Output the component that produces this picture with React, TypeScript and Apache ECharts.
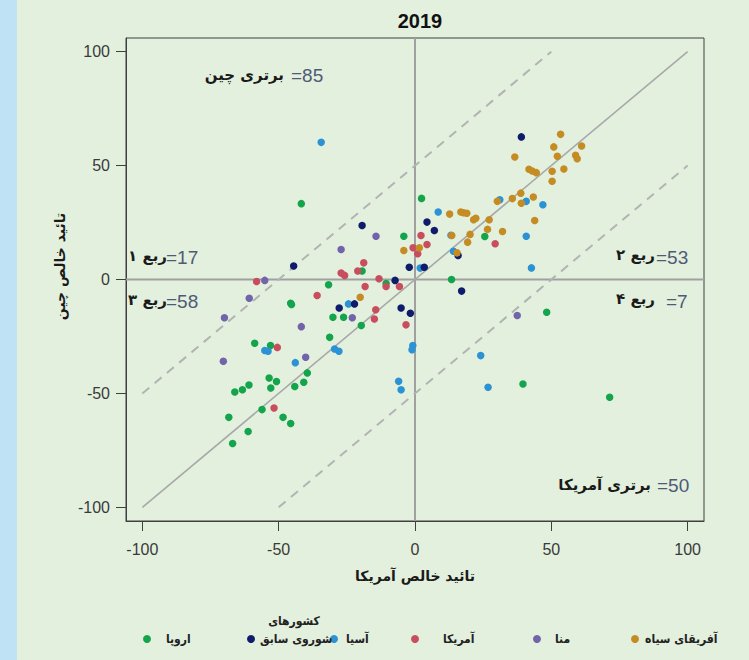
import React, { useEffect, useRef } from "react";
import * as echarts from "echarts";

// ---- data (x = US net approval, y = China net approval) ----
const africa: number[][] = [
  [53.4, 63.7], [50.9, 58.2], [61.1, 58.6], [36.6, 53.8], [52.2, 54.1], [58.9, 54.5], [59.5, 53.0],
  [41.8, 48.4], [43.0, 47.6], [44.5, 46.9], [50.3, 47.5], [54.6, 48.5], [50.3, 43.1], [38.8, 37.9],
  [35.7, 35.5], [30.2, 34.3], [39.0, 33.5], [43.4, 36.2], [43.9, 25.9], [12.7, 28.7], [16.8, 29.6],
  [17.8, 29.3], [19.0, 29.1], [21.5, 26.2], [22.3, 26.9], [27.2, 26.2], [26.6, 22.0], [32.1, 21.1],
  [13.5, 19.3], [20.2, 19.8], [19.3, 16.4], [1.6, 13.9], [-4.1, 12.7], [15.4, 11.7], [-20.1, -7.8],
];
const mena: number[][] = [
  [-14.3, 19.0], [-27.1, 13.2], [-55.1, -0.4], [-60.8, -8.2], [-23.0, -16.8], [-69.9, -16.8],
  [-41.7, -20.7], [-70.3, -35.9], [-40.1, -34.1], [37.5, -15.8],
];
const americas: number[][] = [
  [2.2, 19.3], [-0.7, 13.9], [1.0, 11.3], [4.4, 15.4], [-5.7, -3.1], [-18.8, 7.3], [-21.0, 3.7],
  [-27.1, 2.8], [-25.8, 1.8], [-58.1, -0.9], [-13.2, 0.3], [-10.6, -3.1], [-18.3, -3.1], [-35.9, -7.0],
  [-14.4, -13.3], [-14.9, -17.3], [-3.3, -19.9], [-50.5, -29.8], [-51.7, -56.4], [29.4, 15.7],
];
const asia: number[][] = [
  [31.1, 35.0], [40.8, 34.3], [46.9, 32.8], [40.8, 19.0], [42.7, 5.1], [8.5, 29.6], [13.2, 19.4],
  [14.1, 12.4], [1.9, 5.0], [-24.4, -10.7], [-55.1, -31.2], [-53.9, -31.5], [-29.5, -30.5],
  [-27.9, -31.5], [-0.8, -29.0], [-1.1, -30.8], [-43.9, -36.5], [-6.0, -44.7], [-5.1, -48.4],
  [24.1, -33.4], [26.8, -47.3], [-34.4, 60.2],
];
const soviet: number[][] = [
  [39.0, 62.6], [4.4, 25.2], [7.1, 21.5], [15.8, 10.5], [-2.1, 5.4], [3.4, 5.4], [17.1, -5.1],
  [-7.3, -0.4], [-19.4, 23.7], [-44.5, 5.9], [-27.8, -12.5], [-22.2, -10.7], [-5.1, -12.5], [-1.7, -14.8],
];
const europe: number[][] = [
  [2.4, 35.6], [-4.1, 19.0], [25.6, 18.9], [13.4, 0.0], [-41.7, 33.3], [-19.4, 3.7], [-31.7, -2.3],
  [-10.6, -1.8], [-45.6, -10.4], [-45.3, -11.0], [-30.1, -16.6], [-26.2, -16.6], [-19.7, -20.2],
  [-31.3, -25.4], [-58.8, -28.0], [-53.0, -29.0], [-39.5, -41.0], [-40.8, -45.1], [-44.1, -47.0],
  [-53.5, -43.2], [-50.8, -44.8], [-52.9, -47.6], [-60.9, -46.3], [-63.3, -48.4], [-66.1, -49.4],
  [-56.1, -57.1], [-48.4, -60.5], [-45.6, -63.2], [-68.3, -60.5], [-61.2, -66.7], [-66.9, -72.0],
  [48.3, -14.4], [39.6, -45.9], [71.4, -51.7],
];

const seriesNames = ["آفریقای سیاه", "منا", "آمریکا", "آسیا", "کشورهای شوروی سابق", "اروپا"];
const seriesData = [africa, mena, americas, asia, soviet, europe];
const legendLabels = ["آفریقای سیاه", "منا", "آمریکا", "آسیا", "شوروی سابق", "اروپا"];

const tickValues = [-100, -50, 0, 50, 100];
const axisRange = [-106, 106];

const diagLine = [[-100, -100], [100, 100]];
const upperDash = [[-100, -50], [50, 100]];
const lowerDash = [[-50, -100], [100, 50]];
const zeroH = [[-106, 0], [106, 0]];
const zeroV = [[0, -106], [0, 106]];

const quadrantNames = ["ربع ۱", "ربع ۲", "ربع ۳", "ربع ۴"];
const quadrantCounts = [17, 53, 58, 7];
const advantageNames = ["برتری چین", "برتری آمریکا"];
const advantageCounts = [85, 50];

const titleText = "2019";
const xName = "تائید خالص آمریکا";
const yName = "تائید خالص چین";
const sovietTopLine = "کشورهای";

// ---- styles / layout ----
const colors = ["#c48c22", "#7264aa", "#c84e5e", "#2b92d4", "#0f1c6c", "#14a54c"];
const drawOrder = [5, 3, 4, 2, 1, 0];
const legendDotX = [635, 537, 415, 334, 251, 147];
const legendTextX = [645, 555, 443, 346, 260, 166];
const BG = "#e3f0de";
const faFont = "DejaVu Sans";
const legendFont = "'DejaVu Sans Condensed', 'DejaVu Sans'";
const numFont = "Liberation Sans";

export default function App() {
  const ref = useRef<HTMLDivElement>(null);
  useEffect(() => {
    document.body.style.margin = "0";
    if (!ref.current) return;
    const chart = echarts.init(ref.current, undefined, { renderer: "svg" });

    const lineSeries = [
      { data: zeroH, color: "#a0a0a0", width: 2, type: "solid" },
      { data: zeroV, color: "#a0a0a0", width: 2, type: "solid" },
      { data: diagLine, color: "#a8a8a8", width: 1.6, type: "solid" },
      { data: upperDash, color: "#b3b3b3", width: 2, type: [9, 7] },
      { data: lowerDash, color: "#b3b3b3", width: 2, type: [9, 7] },
    ].map((l) => ({
      type: "line",
      data: l.data,
      symbol: "none",
      silent: true,
      z: 1,
      lineStyle: { color: l.color, width: l.width, type: l.type },
    }));

    const scatterSeries = drawOrder.map((i) => ({
      name: seriesNames[i],
      type: "scatter",
      data: seriesData[i],
      symbolSize: 7.5,
      z: 3,
      itemStyle: { color: colors[i], opacity: 1 },
    }));

    const legends = seriesNames.map((n, i) => ({
      data: [n],
      left: legendDotX[i] - 4,
      top: 633,
      icon: "circle",
      itemWidth: 8,
      itemHeight: 8,
      padding: 0,
      selectedMode: false,
      formatter: () => legendLabels[i],
      textStyle: {
        fontSize: 12,
        fontWeight: "bold",
        fontFamily: legendFont,
        color: "#222",
        padding: [0, 0, 0, Math.max(0, legendTextX[i] - legendDotX[i] - 9)],
      },
    }));

    const txt = (text: string, x: number, y: number, align: string, opts: any) => ({
      type: "text",
      x,
      y,
      silent: true,
      style: { text, align, verticalAlign: "middle", ...opts },
    });
    const faStyle = { fontSize: 15, fontWeight: "bold", fontFamily: faFont, fill: "#1a1a1a" };
    const numStyle = { fontSize: 19, fontFamily: numFont, fill: "#4f5a76" };

    const graphic = [
      { type: "rect", shape: { x: 0, y: 0, width: 17, height: 660 }, style: { fill: "#bfe3f4" }, silent: true },
      txt(advantageNames[0], 284, 75, "right", faStyle),
      txt("=" + advantageCounts[0], 291, 75, "left", numStyle),
      txt(advantageNames[1], 651, 485, "right", faStyle),
      txt("=" + advantageCounts[1], 657, 485, "left", numStyle),
      txt(quadrantNames[0], 167, 256, "right", faStyle),
      txt("=" + quadrantCounts[0], 166, 257, "left", numStyle),
      txt(quadrantNames[2], 167, 300, "right", faStyle),
      txt("=" + quadrantCounts[2], 166, 301, "left", numStyle),
      txt(quadrantNames[1], 655, 255, "right", faStyle),
      txt("=" + quadrantCounts[1], 656, 257, "left", numStyle),
      txt(quadrantNames[3], 655, 299, "right", faStyle),
      txt("=" + quadrantCounts[3], 666, 301, "left", numStyle),
      txt(sovietTopLine, 294, 621, "center", { fontSize: 12, fontWeight: "bold", fontFamily: legendFont, fill: "#222" }),
    ];

    const axisCommon = {
      type: "value",
      min: axisRange[0],
      max: axisRange[1],
      splitLine: { show: false },
      axisLine: { show: true, onZero: false, lineStyle: { color: "#3f3f3f", width: 1 } },
      axisTick: { show: true, customValues: tickValues, length: 10, lineStyle: { color: "#3f3f3f" } },
    };

    chart.setOption({
      animation: false,
      backgroundColor: BG,
      title: {
        text: titleText,
        left: 415,
        top: 6,
        textAlign: "center",
        textStyle: { fontSize: 20, fontWeight: "bold", fontFamily: numFont, color: "#111" },
      },
      grid: {
        left: 126,
        right: 45,
        top: 38,
        bottom: 139,
        show: true,
        backgroundColor: "transparent",
        borderColor: "#3f3f3f",
        borderWidth: 1,
      },
      xAxis: {
        ...axisCommon,
        position: "bottom",
        axisLabel: { customValues: tickValues, fontSize: 16, color: "#3a3a3a", fontFamily: numFont, margin: 20 },
        name: xName,
        nameLocation: "middle",
        nameGap: 48,
        nameTextStyle: { fontSize: 14, fontWeight: "bold", fontFamily: faFont, color: "#1a1a1a" },
      },
      yAxis: {
        ...axisCommon,
        position: "left",
        axisLabel: { customValues: tickValues, fontSize: 16, color: "#3a3a3a", fontFamily: numFont, margin: 16 },
        name: yName,
        nameLocation: "middle",
        nameGap: 36,
        nameRotate: 90,
        nameTextStyle: { fontSize: 14, fontWeight: "bold", fontFamily: faFont, color: "#1a1a1a", padding: [0, 0, 0, 26] },
      },
      legend: legends,
      graphic,
      series: [...lineSeries, ...scatterSeries],
    });
    return () => chart.dispose();
  }, []);
  return <div ref={ref} style={{ width: 749, height: 660, background: BG }} />;
}
